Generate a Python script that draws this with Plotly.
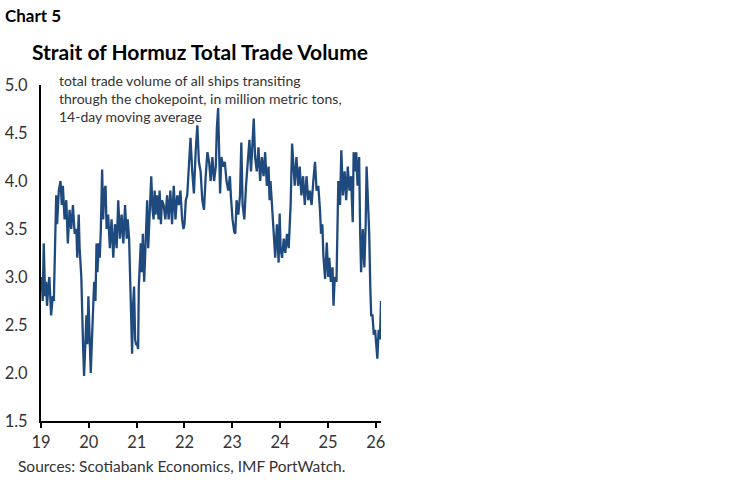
import plotly.graph_objects as go

# Strait of Hormuz total trade volume, 14-day moving average (million metric tons)
dates = [
    "2019-01-06", "2019-01-14", "2019-01-22", "2019-02-01", "2019-02-09", "2019-02-16",
    "2019-02-26", "2019-03-06", "2019-03-19", "2019-04-01", "2019-04-09", "2019-04-14",
    "2019-04-21", "2019-04-27", "2019-05-04", "2019-05-17", "2019-05-30", "2019-06-09",
    "2019-06-17", "2019-06-30", "2019-07-13", "2019-07-25", "2019-08-07", "2019-08-20",
    "2019-09-02", "2019-09-15", "2019-09-28", "2019-10-05", "2019-10-16", "2019-10-23",
    "2019-11-05", "2019-11-13", "2019-11-18", "2019-11-26", "2019-12-03", "2019-12-14",
    "2019-12-21", "2019-12-29", "2020-01-08", "2020-01-16", "2020-01-24", "2020-02-03",
    "2020-02-11", "2020-02-21", "2020-02-29", "2020-03-07", "2020-03-18", "2020-03-25",
    "2020-04-02", "2020-04-12", "2020-04-20", "2020-04-28", "2020-05-08", "2020-05-16",
    "2020-05-28", "2020-06-10", "2020-06-23", "2020-07-06", "2020-07-19", "2020-08-01",
    "2020-08-13", "2020-08-26", "2020-09-08", "2020-09-21", "2020-10-04", "2020-10-17",
    "2020-10-24", "2020-11-04", "2020-11-11", "2020-11-19", "2020-11-27", "2020-12-04",
    "2020-12-12", "2020-12-20", "2020-12-27", "2021-01-04", "2021-01-12", "2021-01-17",
    "2021-01-25", "2021-02-01", "2021-02-09", "2021-02-17", "2021-02-27", "2021-03-07",
    "2021-03-14", "2021-03-22", "2021-03-30", "2021-04-07", "2021-04-14", "2021-04-22",
    "2021-05-02", "2021-05-10", "2021-05-18", "2021-05-25", "2021-06-05", "2021-06-17",
    "2021-06-25", "2021-07-05", "2021-07-13", "2021-07-26", "2021-08-08", "2021-08-21",
    "2021-09-02", "2021-09-15", "2021-09-28", "2021-10-11", "2021-10-24", "2021-11-06",
    "2021-11-18", "2021-12-01", "2021-12-14", "2021-12-24", "2022-01-01", "2022-01-11",
    "2022-01-22", "2022-02-03", "2022-02-16", "2022-03-01", "2022-03-14", "2022-03-27",
    "2022-04-09", "2022-04-21", "2022-05-04", "2022-05-17", "2022-05-30", "2022-06-12",
    "2022-06-25", "2022-07-08", "2022-07-20", "2022-08-02", "2022-08-15", "2022-08-28",
    "2022-09-05", "2022-09-15", "2022-09-23", "2022-09-30", "2022-10-10", "2022-10-23",
    "2022-11-05", "2022-11-18", "2022-12-01", "2022-12-14", "2022-12-21", "2023-01-03",
    "2023-01-16", "2023-01-24", "2023-02-03", "2023-02-16", "2023-03-01", "2023-03-11",
    "2023-03-21", "2023-04-03", "2023-04-16", "2023-04-29", "2023-05-12", "2023-05-24",
    "2023-06-06", "2023-06-14", "2023-06-24", "2023-07-07", "2023-07-20", "2023-08-02",
    "2023-08-15", "2023-08-28", "2023-09-09", "2023-09-22", "2023-10-05", "2023-10-13",
    "2023-10-20", "2023-10-31", "2023-11-12", "2023-11-25", "2023-12-08", "2023-12-21",
    "2023-12-29", "2024-01-05", "2024-01-16", "2024-01-29", "2024-02-10", "2024-02-23",
    "2024-03-07", "2024-03-15", "2024-03-22", "2024-04-02", "2024-04-12", "2024-04-22",
    "2024-05-05", "2024-05-18", "2024-05-30", "2024-06-12", "2024-06-25", "2024-07-08",
    "2024-07-21", "2024-08-03", "2024-08-16", "2024-08-29", "2024-09-11", "2024-09-24",
    "2024-10-06", "2024-10-19", "2024-11-01", "2024-11-09", "2024-11-19", "2024-11-27",
    "2024-12-10", "2024-12-23", "2025-01-03", "2025-01-11", "2025-01-23", "2025-02-05",
    "2025-02-12", "2025-02-22", "2025-03-07", "2025-03-14", "2025-03-21", "2025-04-03",
    "2025-04-13", "2025-04-25", "2025-05-08", "2025-05-20", "2025-06-01", "2025-06-14",
    "2025-06-26", "2025-07-09", "2025-07-16", "2025-07-26", "2025-08-05", "2025-08-15",
    "2025-08-27", "2025-09-04", "2025-09-11", "2025-09-24", "2025-10-06", "2025-10-16",
    "2025-10-23", "2025-11-05", "2025-11-12", "2025-11-20", "2025-11-27", "2025-12-07",
    "2025-12-17", "2025-12-27", "2026-01-06", "2026-01-13", "2026-01-23", "2026-02-02",
    "2026-02-10",
]

volume = [
    3.00, 2.75, 3.35, 2.80, 2.95, 2.70,
    2.90, 3.00, 2.60, 2.80, 2.75, 3.00,
    3.50, 3.85, 3.55, 3.90, 4.00, 3.75,
    3.95, 3.60, 3.80, 3.35, 3.70, 3.50,
    3.75, 3.45, 3.50, 3.20, 3.65, 3.30,
    3.00, 2.70, 2.30, 1.97, 2.30, 2.60,
    2.30, 2.80, 2.35, 2.00, 2.30, 2.70,
    2.95, 2.75, 3.35, 3.05, 3.35, 3.20,
    3.50, 4.12, 3.60, 3.90, 3.95, 3.50,
    3.65, 3.30, 3.60, 3.20, 3.55, 3.30,
    3.80, 3.40, 3.65, 3.35, 3.75, 3.40,
    3.60, 3.40, 3.00, 2.65, 2.20, 2.70,
    2.90, 2.35, 2.30, 2.30, 2.25, 2.90,
    3.10, 3.35, 3.05, 3.45, 2.95, 3.20,
    3.55, 3.80, 3.30, 3.60, 3.65, 4.05,
    3.70, 3.60, 3.90, 3.65, 3.85, 3.60,
    3.90, 3.55, 3.80, 3.75, 3.60, 3.85,
    3.60, 3.90, 3.55, 3.95, 3.60, 3.85,
    3.75, 3.90, 3.60, 3.50, 3.55, 3.80,
    3.85, 4.20, 4.45, 4.10, 3.87, 4.30,
    4.58, 4.20, 4.10, 3.80, 3.70, 4.05,
    4.30, 4.20, 4.00, 4.25, 4.00, 4.15,
    4.55, 4.76, 4.30, 3.87, 4.25, 4.15,
    4.20, 4.00, 3.90, 4.05, 3.85, 3.60,
    3.47, 3.45, 3.80, 3.65, 3.85, 4.40,
    3.75, 3.60, 3.95, 4.25, 4.43, 4.10,
    4.40, 4.65, 4.25, 4.10, 4.35, 4.00,
    4.25, 4.05, 4.30, 3.95, 4.15, 3.80,
    4.00, 3.75, 3.50, 3.20, 3.55, 3.15,
    3.66, 3.30, 3.20, 3.40, 3.25, 3.45,
    3.30, 3.60, 3.76, 4.39, 4.15, 3.95,
    4.25, 3.95, 4.15, 3.85, 4.05, 3.75,
    4.05, 3.80, 3.90, 3.75, 4.00, 4.20,
    3.90, 3.95, 3.70, 3.45, 3.55, 3.22,
    2.98, 3.36, 3.00, 3.20, 2.95, 3.10,
    2.70, 3.00, 2.95, 3.66, 4.00, 3.75,
    4.32, 3.85, 4.10, 3.80, 4.15, 3.90,
    4.05, 3.57, 4.30, 4.10, 4.30, 3.95,
    4.25, 3.45, 3.05, 3.50, 3.10, 3.55,
    4.15, 3.70, 3.45, 2.90, 2.60, 2.60,
    2.40, 2.45, 2.30, 2.15, 2.45, 2.35,
    2.75,
]

font_family = "Lato, Open Sans, sans-serif"
ink = "#333333"

fig = go.Figure()
fig.add_trace(go.Scatter(
    x=dates, y=volume, mode="lines",
    line=dict(color="#1f4a7e", width=2.3),
    showlegend=False, hoverinfo="x+y"))

fig.update_layout(
    width=748, height=483,
    margin=dict(l=41, r=367, t=85, b=62),
    paper_bgcolor="white", plot_bgcolor="white",
    font=dict(family=font_family, size=15, color=ink),
)

fig.update_xaxes(
    type="date", automargin=False,
    range=["2019-01-01", "2026-02-10"],
    tick0="2019-01-01", dtick="M12", tickformat="%y",
    showgrid=False, zeroline=False,
    showline=True, linecolor="black", linewidth=2,
    ticks="outside", ticklen=5, tickwidth=2, tickcolor="black",
    tickfont=dict(size=16.5, color=ink),
)
fig.update_yaxes(
    automargin=False,
    range=[1.5, 5.0], dtick=0.5, tickformat=".1f",
    showgrid=False, zeroline=False,
    showline=True, linecolor="black", linewidth=2,
    ticks="", ticklabelstandoff=8,
    tickfont=dict(size=16.5, color=ink),
)

# titles and notes
fig.add_annotation(
    text="<b>Chart 5</b>", xref="paper", yref="paper",
    x=-0.112, y=1.208, xanchor="left", yanchor="middle",
    showarrow=False, font=dict(size=17, color="black"))
fig.add_annotation(
    text="<b>Strait of Hormuz Total Trade Volume</b>", xref="paper", yref="paper",
    x=0.468, y=1.1, xanchor="center", yanchor="middle",
    showarrow=False, font=dict(size=21, color="black"))
fig.add_annotation(
    text="total trade volume of all ships transiting<br>"
         "through the chokepoint, in million metric tons,<br>"
         "14-day moving average",
    xref="paper", yref="paper", x=0.046, y=1.045,
    xanchor="left", yanchor="top", align="left",
    showarrow=False, font=dict(size=14, color=ink))
fig.add_annotation(
    text="Sources: Scotiabank Economics, IMF PortWatch.",
    xref="paper", yref="paper", x=-0.074, y=-0.134,
    xanchor="left", yanchor="middle", align="left",
    showarrow=False, font=dict(size=15.5, color=ink))

# drop the browser's default body margin so the figure sits at the window corner
fig.write_html(
    "out.html",
    config={"displayModeBar": False},
    post_script="document.body.style.margin = '0'; document.body.style.overflow = 'hidden';")
